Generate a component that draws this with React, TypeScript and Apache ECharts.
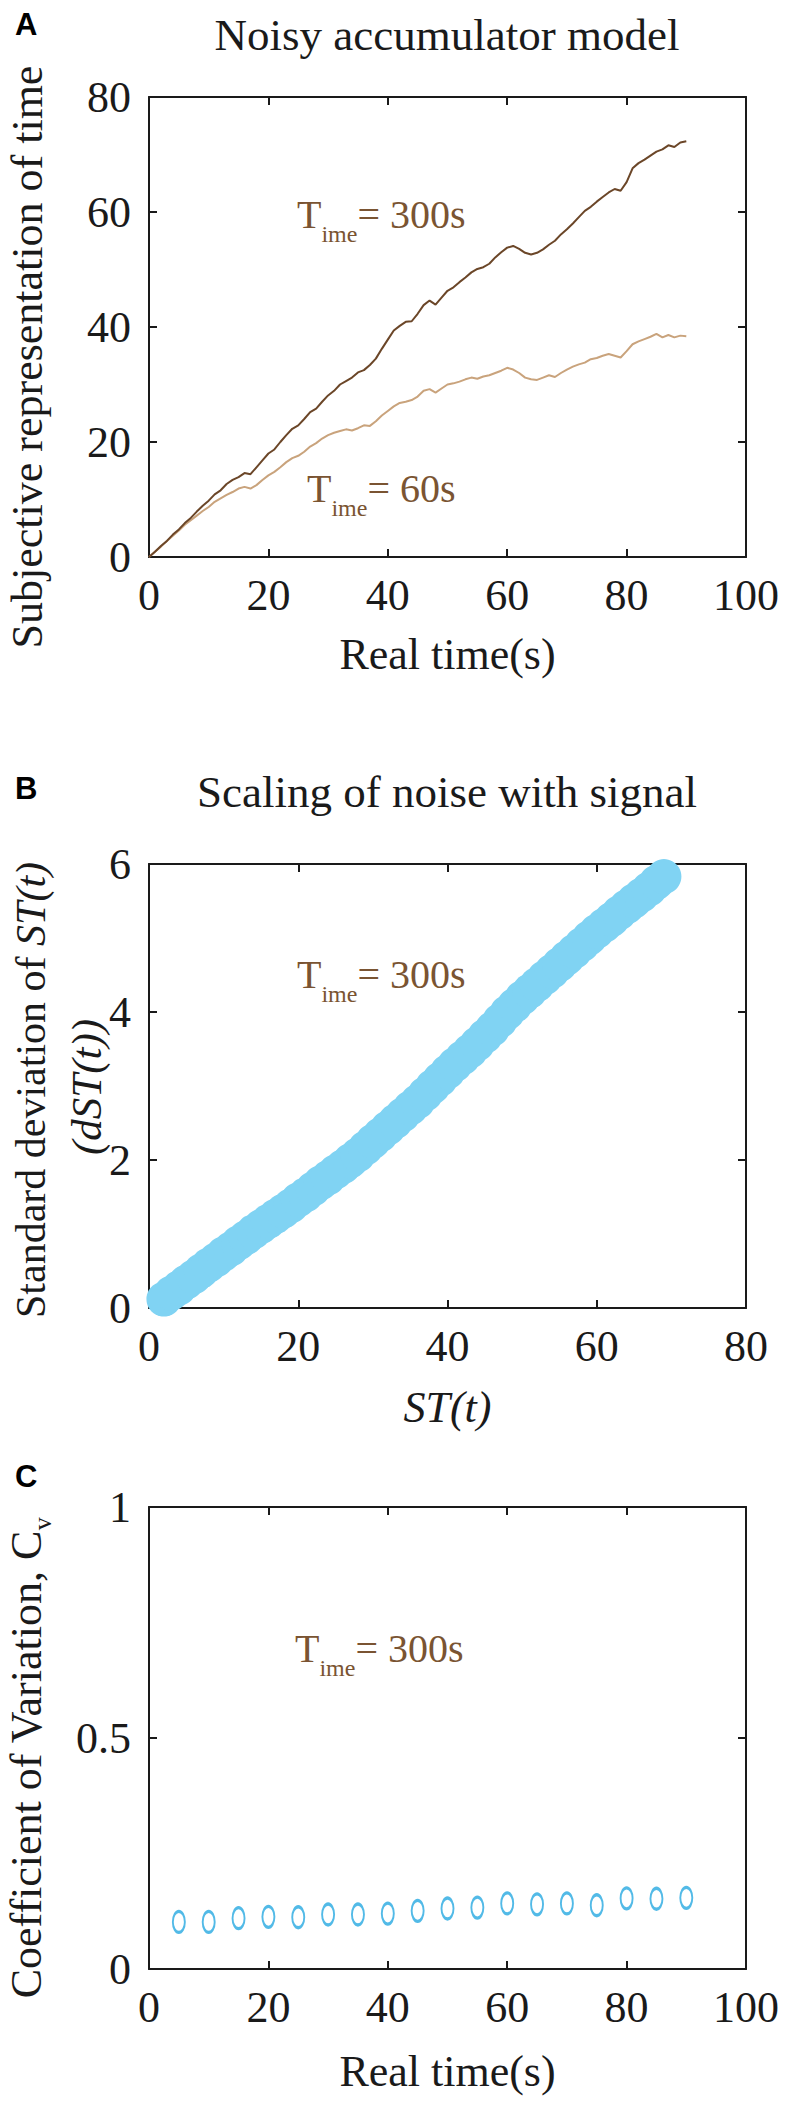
import React, { useEffect, useRef } from "react";
import * as echarts from "echarts";

const SERIF = '"Liberation Serif", "Times New Roman", Times, serif';
const SANS = '"Liberation Sans", Arial, Helvetica, sans-serif';
const INK = "#1a1a1a";
const BROWN_TEXT = "#7a5432";
const DARK_LINE = "#6b4628";
const LIGHT_LINE = "#c9a37c";
const BAND_BLUE = "#80d3f3";
const RING_BLUE = "#27a9e1";

// ---------- Panel A: noisy accumulator ----------
const timeA = [
  0, 1, 2, 3, 4, 5, 6, 7, 8, 9, 10, 11, 12, 13, 14, 15, 16, 17, 18, 19, 20, 21, 22, 23, 24, 25, 26, 27, 28, 29,
  30, 31, 32, 33, 34, 35, 36, 37, 38, 39, 40, 41, 42, 43, 44, 45, 46, 47, 48, 49, 50, 51, 52, 53, 54, 55, 56, 57, 58, 59,
  60, 61, 62, 63, 64, 65, 66, 67, 68, 69, 70, 71, 72, 73, 74, 75, 76, 77, 78, 79, 80, 81, 82, 83, 84, 85, 86, 87, 88, 89, 90,
];
const st300 = [
  0, 0.9, 1.9, 2.8, 3.9, 4.8, 5.9, 6.8, 7.9, 8.9,
  9.8, 10.9, 11.6, 12.7, 13.4, 13.9, 14.6, 14.4, 15.6, 16.8,
  18.0, 18.7, 20.0, 21.2, 22.3, 22.9, 24.0, 25.2, 25.8, 27.0,
  28.1, 28.9, 30.0, 30.6, 31.2, 32.1, 32.5, 33.4, 34.5, 36.2,
  37.8, 39.4, 40.2, 40.9, 41.0, 42.3, 43.8, 44.6, 43.9, 45.1,
  46.3, 46.9, 47.8, 48.6, 49.5, 50.1, 50.4, 51.0, 52.1, 53.0,
  53.8, 54.1, 53.6, 52.9, 52.6, 52.9, 53.5, 54.3, 55.0, 56.1,
  57.0, 58.0, 59.1, 60.2, 60.9, 61.8, 62.6, 63.4, 64.0, 63.7,
  65.2, 67.6, 68.5, 69.1, 69.8, 70.5, 70.9, 71.6, 71.3, 72.1, 72.3,
];
const st60 = [
  0, 0.9, 1.8, 2.8, 3.7, 4.6, 5.6, 6.4, 7.2, 8.0,
  8.7, 9.6, 10.2, 10.8, 11.3, 11.9, 12.2, 11.9, 12.5, 13.4,
  14.2, 14.8, 15.6, 16.5, 17.2, 17.6, 18.3, 19.2, 19.8, 20.6,
  21.2, 21.6, 21.9, 22.2, 22.0, 22.4, 22.9, 22.8, 23.6, 24.6,
  25.4, 26.2, 26.8, 27.0, 27.3, 27.9, 28.9, 29.2, 28.6, 29.3,
  30.0, 30.2, 30.5, 30.9, 31.2, 31.0, 31.4, 31.6, 32.0, 32.4,
  32.9, 32.6, 32.0, 31.2, 30.9, 30.8, 31.2, 31.6, 31.3, 32.0,
  32.6, 33.1, 33.5, 33.8, 34.4, 34.6, 35.0, 35.3, 35.0, 34.7,
  35.8, 37.0, 37.5, 37.9, 38.3, 38.8, 38.2, 38.6, 38.2, 38.5, 38.4,
];

// ---------- Panel B: noise vs signal ----------
const stB = [
  2, 3, 4, 5, 6, 7, 8, 9, 10, 11, 12, 13, 14, 15, 16, 17, 18, 19, 20, 21, 22, 23, 24, 25, 26, 27, 28, 29, 30, 31,
  32, 33, 34, 35, 36, 37, 38, 39, 40, 41, 42, 43, 44, 45, 46, 47, 48, 49, 50, 51, 52, 53, 54, 55, 56, 57, 58, 59, 60, 61,
  62, 63, 64, 65, 66, 67, 68, 69,
];
const sdB = [
  0.12, 0.2, 0.27, 0.35, 0.42, 0.5, 0.58, 0.65, 0.73, 0.8, 0.88, 0.95, 1.03, 1.1, 1.17, 1.24, 1.31, 1.38, 1.46, 1.53,
  1.61, 1.69, 1.76, 1.84, 1.91, 1.99, 2.07, 2.16, 2.25, 2.34, 2.43, 2.52, 2.61, 2.7, 2.79, 2.89, 2.99, 3.09, 3.19, 3.29,
  3.38, 3.47, 3.57, 3.67, 3.77, 3.88, 3.99, 4.09, 4.19, 4.28, 4.37, 4.46, 4.55, 4.64, 4.73, 4.82, 4.91, 5.0, 5.09, 5.17,
  5.25, 5.34, 5.42, 5.5, 5.58, 5.66, 5.75, 5.83,
];

// ---------- Panel C: coefficient of variation ----------
const timeC = [5, 10, 15, 20, 25, 30, 35, 40, 45, 50, 55, 60, 65, 70, 75, 80, 85, 90];
const cvC = [0.102, 0.102, 0.11, 0.113, 0.112, 0.118, 0.118, 0.12, 0.126, 0.131, 0.133, 0.142, 0.14, 0.142, 0.138, 0.153, 0.152, 0.154];

const TICK_FONT = 44;

function xAx(grid: number, min: number, max: number, interval: number, pos: string, labels: boolean, name = "", nameGap = 0, italic = false) {
  return {
    type: "value",
    gridIndex: grid,
    min,
    max,
    interval,
    position: pos,
    axisLine: { show: true, onZero: false, lineStyle: { color: INK, width: 2 } },
    axisTick: { show: true, inside: true, length: 8, lineStyle: { color: INK, width: 2 } },
    axisLabel: { show: labels, fontSize: TICK_FONT, fontFamily: SERIF, color: INK, margin: 16, showMinLabel: true, showMaxLabel: true },
    splitLine: { show: false },
    name,
    nameLocation: "middle",
    nameGap,
    nameTextStyle: { fontSize: 44, fontFamily: SERIF, color: INK, fontStyle: italic ? "italic" : "normal" },
  };
}

function yAx(grid: number, min: number, max: number, interval: number, pos: string, labels: boolean) {
  return {
    type: "value",
    gridIndex: grid,
    min,
    max,
    interval,
    position: pos,
    axisLine: { show: true, onZero: false, lineStyle: { color: INK, width: 2 } },
    axisTick: { show: true, inside: true, length: 8, lineStyle: { color: INK, width: 2 } },
    axisLabel: { show: labels, fontSize: TICK_FONT, fontFamily: SERIF, color: INK, margin: 18, showMinLabel: true, showMaxLabel: true },
    splitLine: { show: false },
  };
}

function annot(x: number, y: number, rest: string) {
  return {
    type: "text",
    x,
    y,
    silent: true,
    style: {
      text: "{t|T}{s|ime}{t|= " + rest + "}",
      align: "left",
      verticalAlign: "top",
      rich: {
        t: { fontSize: 40, fontFamily: SERIF, fill: BROWN_TEXT, lineHeight: 44, verticalAlign: "top" },
        s: { fontSize: 24, fontFamily: SERIF, fill: BROWN_TEXT, lineHeight: 80, verticalAlign: "middle" },
      },
    },
  };
}

function plainText(x: number, y: number, text: string, size: number, family: string, opts: any = {}) {
  return {
    type: "text",
    x,
    y,
    rotation: opts.rotation || 0,
    silent: true,
    style: {
      text,
      fontSize: size,
      fontFamily: family,
      fontWeight: opts.bold ? "bold" : "normal",
      fill: opts.fill || INK,
      align: opts.align || "left",
      verticalAlign: opts.verticalAlign || "top",
      lineHeight: opts.lineHeight,
      rich: opts.rich,
    },
  };
}

export default function App() {
  const ref = useRef<HTMLDivElement>(null);

  useEffect(() => {
    if (!ref.current) return;
    const chart = echarts.init(ref.current, null, { renderer: "svg" });

    const ellipse = "path://M10,0 A10,10 0 1,1 10,20 A10,10 0 1,1 10,0 Z";

    const option: any = {
      animation: false,
      backgroundColor: "#ffffff",
      textStyle: { fontFamily: SERIF },
      grid: [
        { left: 149, top: 97, width: 597, height: 460, containLabel: false },
        { left: 149, top: 864, width: 597, height: 444, containLabel: false },
        { left: 149, top: 1507, width: 597, height: 462, containLabel: false },
      ],
      xAxis: [
        xAx(0, 0, 100, 20, "bottom", true, "Real time(s)", 75),
        xAx(0, 0, 100, 20, "top", false),
        xAx(1, 0, 80, 20, "bottom", true, "ST(t)", 77, true),
        xAx(1, 0, 80, 20, "top", false),
        xAx(2, 0, 100, 20, "bottom", true, "Real time(s)", 80),
        xAx(2, 0, 100, 20, "top", false),
      ],
      yAxis: [
        yAx(0, 0, 80, 20, "left", true),
        yAx(0, 0, 80, 20, "right", false),
        yAx(1, 0, 6, 2, "left", true),
        yAx(1, 0, 6, 2, "right", false),
        yAx(2, 0, 1, 0.5, "left", true),
        yAx(2, 0, 1, 0.5, "right", false),
      ],
      series: [
        {
          type: "line",
          name: "Time = 60s",
          xAxisIndex: 0,
          yAxisIndex: 0,
          data: timeA.map((t, i) => [t, st60[i]]),
          showSymbol: false,
          symbol: "none",
          lineStyle: { color: LIGHT_LINE, width: 2 },
        },
        {
          type: "line",
          name: "Time = 300s",
          xAxisIndex: 0,
          yAxisIndex: 0,
          data: timeA.map((t, i) => [t, st300[i]]),
          showSymbol: false,
          symbol: "none",
          lineStyle: { color: DARK_LINE, width: 2 },
        },
        {
          type: "scatter",
          name: "SD of ST(t)",
          xAxisIndex: 2,
          yAxisIndex: 2,
          data: stB.map((s, i) => [s, sdB[i]]),
          symbol: "circle",
          symbolSize: 35,
          clip: false,
          itemStyle: { color: BAND_BLUE, opacity: 1 },
        },
        {
          type: "scatter",
          name: "Cv",
          xAxisIndex: 4,
          yAxisIndex: 4,
          data: timeC.map((t, i) => [t, cvC[i]]),
          symbol: ellipse,
          symbolSize: [12, 21],
          itemStyle: { color: "rgba(0,0,0,0)", borderColor: RING_BLUE, borderWidth: 2.5 },
        },
      ],
      graphic: [
        // panel letters
        plainText(15, 9, "A", 31, SANS, { bold: true, fill: "#000" }),
        plainText(15, 773, "B", 31, SANS, { bold: true, fill: "#000" }),
        plainText(15, 1461, "C", 31, SANS, { bold: true, fill: "#000" }),
        // titles
        plainText(447, 12, "Noisy accumulator model", 45, SERIF, { align: "center" }),
        plainText(447, 769, "Scaling of noise with signal", 45, SERIF, { align: "center" }),
        // y axis names
        plainText(27, 357, "Subjective representation of time", 44, SERIF, {
          rotation: Math.PI / 2,
          align: "center",
          verticalAlign: "middle",
          lineHeight: 46,
        }),
        plainText(31, 1090, "{n|Standard deviation of }{i|ST(t)}", 42, SERIF, {
          rotation: Math.PI / 2,
          align: "center",
          verticalAlign: "middle",
          rich: {
            n: { fontSize: 42, fontFamily: SERIF, fill: INK, lineHeight: 44 },
            i: { fontSize: 42, fontFamily: SERIF, fill: INK, fontStyle: "italic", lineHeight: 44 },
          },
        }),
        plainText(86, 1087, "{i|(dST(t))}", 43, SERIF, {
          rotation: Math.PI / 2,
          align: "center",
          verticalAlign: "middle",
          rich: { i: { fontSize: 43, fontFamily: SERIF, fill: INK, fontStyle: "italic", lineHeight: 46 } },
        }),
        plainText(42, 1758, "{n|Coefficient of Variation, C}{v|v}", 44, SERIF, {
          rotation: Math.PI / 2,
          align: "center",
          verticalAlign: "middle",
          rich: {
            n: { fontSize: 44, fontFamily: SERIF, fill: INK, lineHeight: 48, verticalAlign: "top" },
            v: { fontSize: 26, fontFamily: SERIF, fill: INK, lineHeight: 76, verticalAlign: "middle" },
          },
        }),
        // annotations
        annot(297, 194, "300s"),
        annot(307, 468, "60s"),
        annot(297, 954, "300s"),
        annot(295, 1628, "300s"),
      ],
    };

    chart.setOption(option);
    return () => chart.dispose();
  }, []);

  return (
    <div
      ref={ref}
      style={{ position: "absolute", left: 0, top: 0, width: 787, height: 2106, background: "#ffffff" }}
    />
  );
}
